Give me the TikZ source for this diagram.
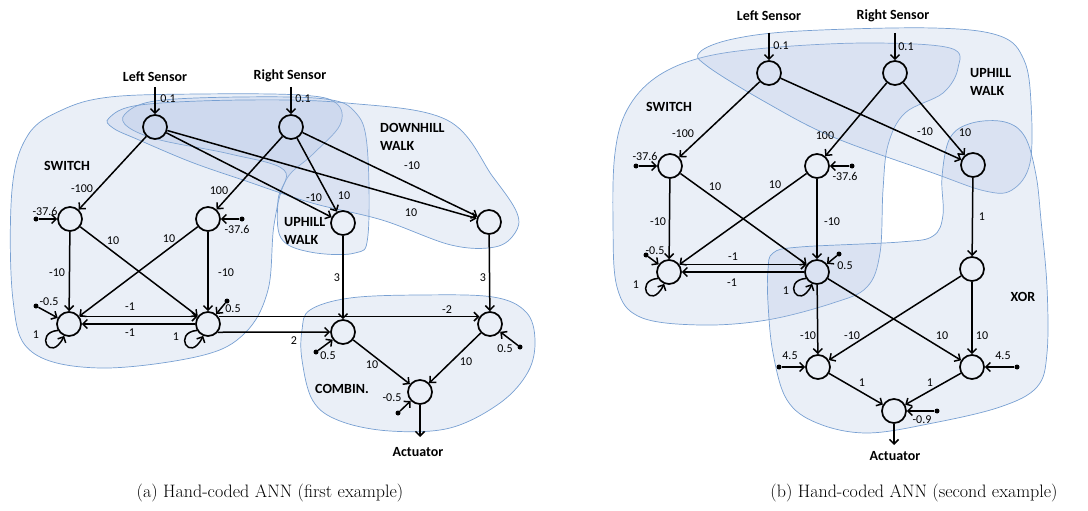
\documentclass[tikz,border=0pt]{standalone}
\usepackage{fontspec}
\newfontfamily\labfont{Carlito}
\usepackage{tikz}
\usetikzlibrary{arrows.meta}

\definecolor{blobline}{RGB}{120,160,210}
\definecolor{blobfill}{RGB}{170,190,225}

\begin{document}
\begin{tikzpicture}[x=1pt,y=-1pt]
        \tikzset{
            neuron/.style = {circle, draw=black, line width=1.7pt, minimum size=24pt, inner sep=0pt},
            arrow/.style = {line width=1.5pt,->,>={Straight Barb[length=4.5pt,width=9pt]}},
            bias/.style = {circle, fill=black, minimum size=5pt, inner sep=0pt},
            wlabel/.style = {font=\labfont\fontsize{12}{12}\selectfont, inner sep=0pt},
            grouplabel/.style = {font=\labfont\bfseries\fontsize{14}{17.5}\selectfont, align=left, inner sep=0pt},
            sensorname/.style = {font=\labfont\bfseries\fontsize{14}{16}\selectfont, inner sep=0pt},
            caption/.style = {font=\fontsize{18}{20}\selectfont, inner sep=0pt},
            blob/.style = {draw=blobline, line width=0.7pt, fill=blobfill, fill opacity=0.25}
        }
        \useasboundingbox (0,0) rectangle (1088,511);

        % (a) groups
        \path[blob] plot[smooth cycle, tension=0.6] coordinates {(110,97) (200,94) (300,95) (336,103) (340,125) (312,155) (286,180) (274,225) (268,290) (245,333) (200,356) (100,368) (32,352) (13,300) (12,190) (28,135) (62,110)};
        \path[blob] plot[smooth cycle, tension=0.6] coordinates {(125,114) (155,101) (240,97) (325,99) (355,112) (367,145) (368,235) (355,253) (310,252) (281,238) (278,200) (284,170) (230,154) (160,140) (128,127)};
        \path[blob] plot[smooth cycle, tension=0.6] coordinates {(109,118) (140,105) (243,100) (347,103) (447,120) (493,177) (517,213) (515,233) (495,247) (451,245) (382,220) (312,203) (243,180) (191,162) (139,140) (113,128)};
        \path[blob] plot[smooth cycle, tension=0.6] coordinates {(310,310) (350,298) (420,295) (493,297) (526,312) (535,340) (528,372) (500,403) (450,428) (390,431) (340,421) (313,401) (302,360) (302,330)};

        \node[grouplabel] (gSwitchA) at (67,166) {SWITCH};
        \node[grouplabel, anchor=west] (gDownA) at (380,137) {DOWNHILL\\WALK};
        \node[grouplabel, anchor=west] (gUpA) at (284,231) {UPHILL\\WALK};
        \node[grouplabel] (gCombA) at (342,389) {COMBIN.};

        % (a) neurons
        \node[neuron] (ls) at (155,127) {};
        \node[neuron] (rs) at (291,127) {};
        \node[neuron] (sa1) at (70,219) {};
        \node[neuron] (sa2) at (208,219) {};
        \node[neuron] (sa3) at (69,324) {};
        \node[neuron] (sa4) at (208,324) {};
        \node[neuron] (up) at (343,223) {};
        \node[neuron] (dn) at (489,222) {};
        \node[neuron] (ca) at (343,332) {};
        \node[neuron] (cb) at (490,324) {};
        \node[neuron] (out) at (420,392) {};

        \node[sensorname] (lsName) at (155,77) {Left Sensor};
        \node[sensorname] (rsName) at (290,76) {Right Sensor};
        \node[sensorname] (actName) at (418,452) {Actuator};
        \coordinate (lsIn) at (155,87);
        \coordinate (rsIn) at (291,87);
        \coordinate (actEnd) at (420,437);

        % (a) bias inputs
        \node[bias] (bsa1) at (36,219) {};
        \node[bias] (bsa2) at (242,219) {};
        \node[bias] (bsa3) at (36,306) {};
        \node[bias] (bsa4) at (227,301) {};
        \node[bias] (bca) at (316,352) {};
        \node[bias] (bcb) at (520,347) {};
        \node[bias] (bout) at (398,413) {};

        % (a) connections
        \draw [arrow] (lsIn) -- (ls);
        \draw [arrow] (rsIn) -- (rs);
        \draw [arrow] (ls) -- (sa1);
        \draw [arrow] (rs) -- (sa2);
        \draw [arrow] (ls) -- (up);
        \draw [arrow] (rs) -- (up);
        \draw [arrow] (ls) -- (dn);
        \draw [arrow] (rs) -- (dn);
        \draw [arrow] (sa1) -- (sa3);
        \draw [arrow] (sa1) -- (sa4);
        \draw [arrow] (sa2) -- (sa3);
        \draw [arrow] (sa2) -- (sa4);
        \draw [arrow] (sa3.35) -- (sa4.145);
        \draw [arrow] (sa4.180) -- (sa3.0);
        \draw [arrow] (sa3.210) .. controls +(-24,2) and +(-14,28) .. (sa3.248);
        \draw [arrow] (sa4.210) .. controls +(-24,2) and +(-14,28) .. (sa4.248);
        \draw [arrow] (sa4.35) -- (cb.145);
        \draw [arrow] (sa4.-40) -- (ca.180);
        \draw [arrow] (up) -- (ca);
        \draw [arrow] (dn) -- (cb);
        \draw [arrow] (ca) -- (out);
        \draw [arrow] (cb) -- (out);
        \draw [arrow] (out) -- (actEnd);
        \draw [arrow] (bsa1) -- (sa1);
        \draw [arrow] (bsa2) -- (sa2);
        \draw [arrow] (bsa3) -- (sa3);
        \draw [arrow] (bsa4) -- (sa4);
        \draw [arrow] (bca) -- (ca);
        \draw [arrow] (bcb) -- (cb);
        \draw [arrow] (bout) -- (out);

        % (a) weights
        \node[wlabel] (wls) at (168,99) {0.1};
        \node[wlabel] (wrs) at (303,99) {0.1};
        \node[wlabel] (w1) at (82,189) {-100};
        \node[wlabel] (w2) at (219,191) {100};
        \node[wlabel] (w3) at (314,198) {-10};
        \node[wlabel] (w4) at (344,196) {10};
        \node[wlabel] (w5) at (412,166) {-10};
        \node[wlabel] (w6) at (411,213) {10};
        \node[wlabel] (w7) at (57,273) {-10};
        \node[wlabel] (w8) at (113,241) {10};
        \node[wlabel] (w9) at (169,239) {10};
        \node[wlabel] (w10) at (226,273) {-10};
        \node[wlabel] (w11) at (130,307) {-1};
        \node[wlabel] (w12) at (130,333) {-1};
        \node[wlabel] (w13) at (36,335) {1};
        \node[wlabel] (w14) at (176,337) {1};
        \node[wlabel] (w15) at (447,310) {-2};
        \node[wlabel] (w16) at (294,341) {2};
        \node[wlabel] (w17) at (337,278) {3};
        \node[wlabel] (w18) at (483,278) {3};
        \node[wlabel] (w19) at (372,365) {10};
        \node[wlabel] (w20) at (466,362) {10};
        \node[wlabel] (b1) at (45,211) {-37.6};
        \node[wlabel] (b2) at (237,229) {-37.6};
        \node[wlabel] (b3) at (49,302) {-0.5};
        \node[wlabel] (b4) at (233,309) {0.5};
        \node[wlabel] (b5) at (328,356) {0.5};
        \node[wlabel] (b6) at (505,349) {0.5};
        \node[wlabel] (b7) at (392,398) {-0.5};

        % (b) groups
        \path[blob] plot[smooth cycle, tension=0.6] coordinates {(700,58) (767,48) (867,43) (950,48) (958,68) (943,93) (905,113) (888,145) (883,190) (880,253) (867,287) (833,303) (767,320) (700,325) (640,317) (617,287) (613,220) (615,153) (627,110) (655,78)};
        \path[blob] plot[smooth cycle, tension=0.6] coordinates {(700,52) (733,39) (800,31) (933,28) (1000,36) (1024,60) (1031,103) (1030,163) (1012,190) (985,191) (933,173) (833,137) (767,103) (707,66)};
        \path[blob] plot[smooth cycle, tension=0.6] coordinates {(773,253) (800,247) (900,242) (933,236) (943,215) (942,177) (950,138) (972,123) (1005,122) (1025,137) (1036,175) (1041,220) (1047,287) (1047,353) (1037,387) (1000,407) (933,423) (867,433) (817,423) (787,400) (773,353) (768,303) (768,270)};

        \node[grouplabel] (gSwitchB) at (669,107) {SWITCH};
        \node[grouplabel, anchor=west] (gUpB) at (970,82) {UPHILL\\WALK};
        \node[grouplabel] (gXorB) at (1023,297) {XOR};

        % (b) neurons
        \node[neuron] (ls2) at (769,73) {};
        \node[neuron] (rs2) at (895,73) {};
        \node[neuron] (sb1) at (670,166) {};
        \node[neuron] (sb2) at (817,166) {};
        \node[neuron] (sb3) at (669,272) {};
        \node[neuron] (sb4) at (817,272) {};
        \node[neuron] (up2) at (973,165) {};
        \node[neuron] (x1) at (972,269) {};
        \node[neuron] (x2) at (818,367) {};
        \node[neuron] (x3) at (972,367) {};
        \node[neuron] (out2) at (894,411) {};

        \node[sensorname] (lsName2) at (769,16) {Left Sensor};
        \node[sensorname] (rsName2) at (893,16) {Right Sensor};
        \node[sensorname] (actName2) at (895,456) {Actuator};
        \coordinate (lsIn2) at (769,33);
        \coordinate (rsIn2) at (895,33);
        \coordinate (actEnd2) at (894,445);

        % (b) bias inputs
        \node[bias] (bsb1) at (636,166) {};
        \node[bias] (bsb2) at (852,166) {};
        \node[bias] (bsb3) at (646,255) {};
        \node[bias] (bsb4) at (839,254) {};
        \node[bias] (bx2) at (779,367) {};
        \node[bias] (bx3) at (1017,367) {};
        \node[bias] (bout2) at (937,411) {};

        % (b) connections
        \draw [arrow] (lsIn2) -- (ls2);
        \draw [arrow] (rsIn2) -- (rs2);
        \draw [arrow] (ls2) -- (sb1);
        \draw [arrow] (rs2) -- (sb2);
        \draw [arrow] (ls2) -- (up2);
        \draw [arrow] (rs2) -- (up2);
        \draw [arrow] (sb1) -- (sb3);
        \draw [arrow] (sb1) -- (sb4);
        \draw [arrow] (sb2) -- (sb3);
        \draw [arrow] (sb2) -- (sb4);
        \draw [arrow] (sb3.35) -- (sb4.145);
        \draw [arrow] (sb4.180) -- (sb3.0);
        \draw [arrow] (sb3.210) .. controls +(-24,2) and +(-14,28) .. (sb3.248);
        \draw [arrow] (sb4.210) .. controls +(-24,2) and +(-14,28) .. (sb4.248);
        \draw [arrow] (up2) -- (x1);
        \draw [arrow] (sb4) -- (x2);
        \draw [arrow] (sb4) -- (x3);
        \draw [arrow] (x1) -- (x2);
        \draw [arrow] (x1) -- (x3);
        \draw [arrow] (x2) -- (out2);
        \draw [arrow] (x3) -- (out2);
        \draw [arrow] (out2) -- (actEnd2);
        \draw [arrow] (bsb1) -- (sb1);
        \draw [arrow] (bsb2) -- (sb2);
        \draw [arrow] (bsb3) -- (sb3);
        \draw [arrow] (bsb4) -- (sb4);
        \draw [arrow] (bx2) -- (x2);
        \draw [arrow] (bx3) -- (x3);
        \draw [arrow] (bout2) -- (out2);

        % (b) weights
        \node[wlabel] (vls) at (781,46) {0.1};
        \node[wlabel] (vrs) at (906,47) {0.1};
        \node[wlabel] (v1) at (683,134) {-100};
        \node[wlabel] (v2) at (825,136) {100};
        \node[wlabel] (v3) at (925,132) {-10};
        \node[wlabel] (v4) at (965,133) {10};
        \node[wlabel] (v5) at (658,222) {-10};
        \node[wlabel] (v6) at (715,187) {10};
        \node[wlabel] (v7) at (775,185) {10};
        \node[wlabel] (v8) at (832,222) {-10};
        \node[wlabel] (v9) at (733,257) {-1};
        \node[wlabel] (v10) at (732,283) {-1};
        \node[wlabel] (v11) at (636,285) {1};
        \node[wlabel] (v12) at (786,291) {1};
        \node[wlabel] (v13) at (982,217) {1};
        \node[wlabel] (v14) at (808,336) {-10};
        \node[wlabel] (v15) at (852,336) {-10};
        \node[wlabel] (v16) at (942,336) {10};
        \node[wlabel] (v17) at (982,336) {10};
        \node[wlabel] (v18) at (862,383) {1};
        \node[wlabel] (v19) at (930,383) {1};
        \node[wlabel] (c1) at (645,156) {-37.6};
        \node[wlabel] (c2) at (845,176) {-37.6};
        \node[wlabel] (c3) at (655,251) {-0.5};
        \node[wlabel] (c4) at (845,266) {0.5};
        \node[wlabel] (c5) at (790,356) {4.5};
        \node[wlabel] (c6) at (1003,356) {4.5};
        \node[wlabel] (c7) at (922,420) {-0.9};

        % captions
        \node[caption] (capA) at (270,493) {(a) Hand-coded ANN (first example)};
        \node[caption] (capB) at (914,493) {(b) Hand-coded ANN (second example)};
    \end{tikzpicture}
\end{document}
